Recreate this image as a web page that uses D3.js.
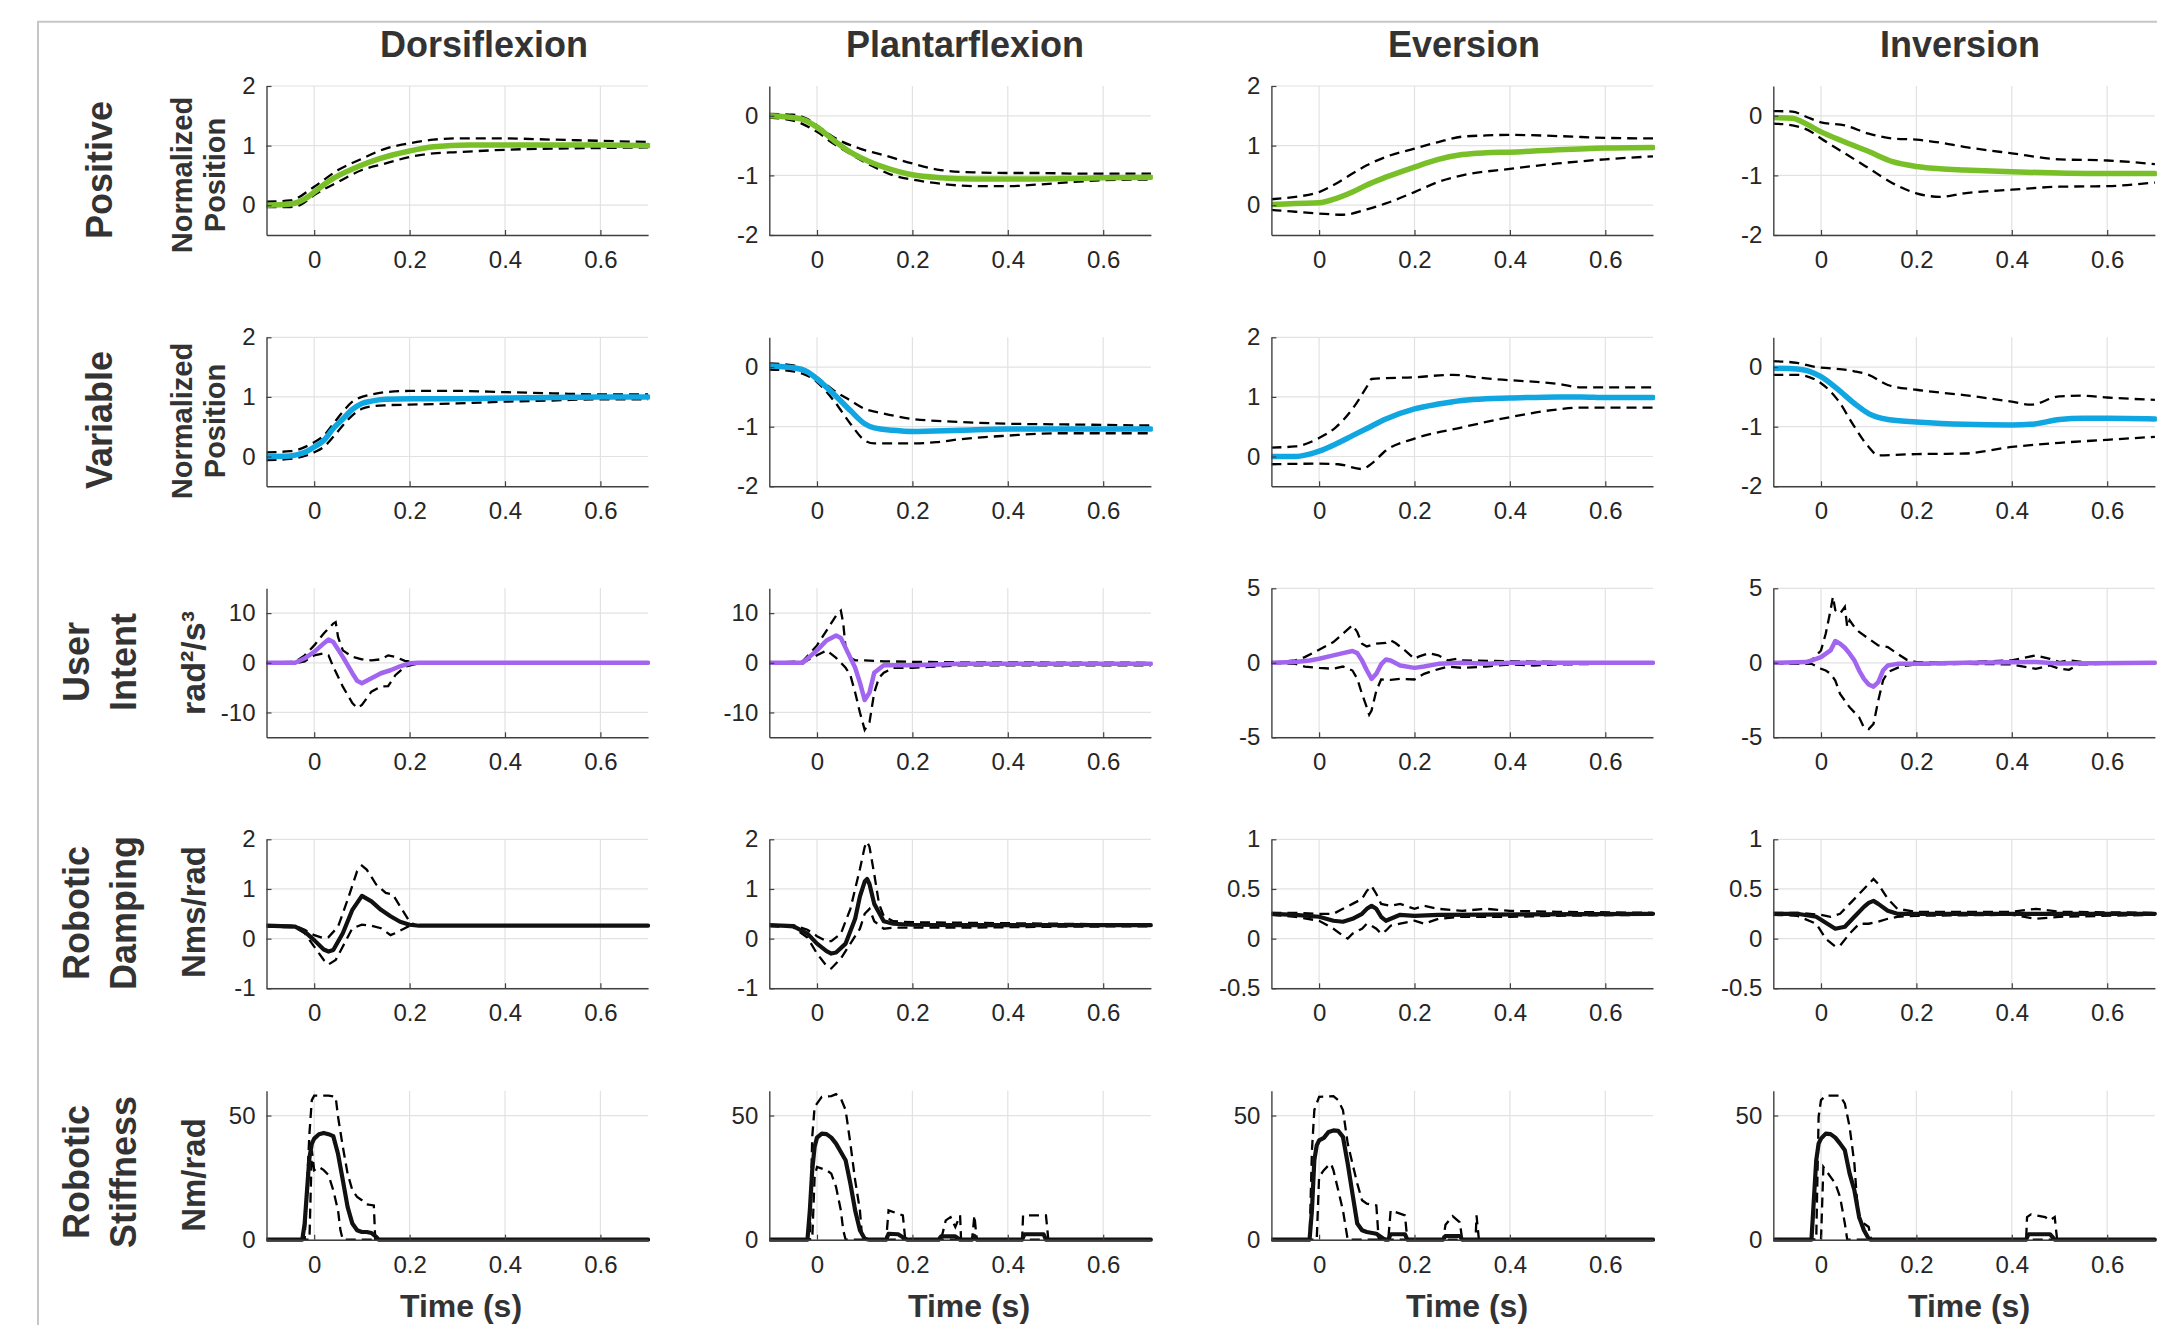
<!DOCTYPE html>
<html><head><meta charset="utf-8">
<script src="https://cdn.jsdelivr.net/npm/d3@7"></script>
<style>
body{margin:0;background:#fff}
svg{display:block}
text{font-family:"Liberation Sans",Arial,Helvetica,sans-serif}
</style>
</head><body>
<svg id="chart" width="2157" height="1325"></svg>
<script>
// ---------- labels ----------
const columns = ["Dorsiflexion","Plantarflexion","Eversion","Inversion"];
const rowLabels = [["Positive"],["Variable"],["User","Intent"],["Robotic","Damping"],["Robotic","Stiffness"]];
const yAxisLabels = [["Normalized","Position"],["Normalized","Position"],["rad\u00b2/s\u00b3"],["Nms/rad"],["Nm/rad"]];
const xLabel = "Time (s)";
const xDomain = [-0.1, 0.7];
const xTicks = [0, 0.2, 0.4, 0.6];
const yDomainsPos = [[-0.5,2],[-2,0.5],[-0.5,2],[-2,0.5]];
const yTicksPos = [[0,1,2],[-2,-1,0],[0,1,2],[-2,-1,0]];
const yDomainsInt = [[-15,15],[-15,15],[-5,5],[-5,5]];
const yTicksInt = [[-10,0,10],[-10,0,10],[-5,0,5],[-5,0,5]];
const yDomainsDamp = [[-1,2],[-1,2],[-0.5,1],[-0.5,1]];
const yTicksDamp = [[-1,0,1,2],[-1,0,1,2],[-0.5,0,0.5,1],[-0.5,0,0.5,1]];
const yDomainsStiff = [[0,60],[0,60],[0,60],[0,60]];
const yTicksStiff = [[0,50],[0,50],[0,50],[0,50]];

// ---------- Row 1: Positive (normalized position) ----------
const posDorsiMean = [[-0.1,0],[-0.05,0.02],[-0.013,0.14],[0,0.22],[0.034,0.42],[0.09,0.64],[0.137,0.78],[0.2,0.91],[0.25,0.98],[0.325,1.01],[0.4,1.01],[0.6,1.01],[0.7,1.0]];
const posDorsiUp = [[-0.1,0.06],[-0.05,0.08],[0,0.31],[0.05,0.59],[0.1,0.78],[0.15,0.95],[0.2,1.04],[0.25,1.1],[0.3,1.12],[0.4,1.12],[0.5,1.1],[0.6,1.08],[0.7,1.06]];
const posDorsiLo = [[-0.1,-0.03],[-0.05,-0.03],[-0.03,0],[0,0.17],[0.05,0.39],[0.1,0.59],[0.15,0.7],[0.2,0.81],[0.25,0.87],[0.3,0.89],[0.4,0.93],[0.5,0.95],[0.6,0.96],[0.7,0.97]];
const posPlantMean = [[-0.1,0],[-0.035,-0.05],[0,-0.19],[0.035,-0.41],[0.07,-0.61],[0.119,-0.8],[0.16,-0.91],[0.2,-0.99],[0.259,-1.04],[0.329,-1.06],[0.4,-1.06],[0.469,-1.06],[0.538,-1.05],[0.6,-1.04],[0.7,-1.03]];
const posPlantUp = [[-0.1,0.03],[-0.05,0.02],[-0.021,-0.05],[0,-0.16],[0.035,-0.36],[0.09,-0.55],[0.14,-0.66],[0.2,-0.8],[0.259,-0.91],[0.329,-0.95],[0.4,-0.96],[0.469,-0.96],[0.538,-0.97],[0.7,-0.97]];
const posPlantLo = [[-0.1,-0.03],[-0.05,-0.08],[0,-0.27],[0.035,-0.47],[0.07,-0.64],[0.12,-0.86],[0.16,-1.0],[0.2,-1.07],[0.26,-1.14],[0.33,-1.18],[0.4,-1.18],[0.47,-1.15],[0.54,-1.11],[0.6,-1.08],[0.7,-1.07]];
const posEverMean = [[-0.1,0.01],[-0.05,0.03],[0,0.04],[0.035,0.11],[0.07,0.22],[0.1,0.34],[0.14,0.47],[0.2,0.64],[0.25,0.77],[0.3,0.85],[0.35,0.88],[0.4,0.89],[0.5,0.93],[0.6,0.96],[0.7,0.97]];
const posEverUp = [[-0.1,0.1],[-0.05,0.14],[0,0.22],[0.035,0.36],[0.07,0.53],[0.1,0.67],[0.14,0.81],[0.2,0.95],[0.25,1.06],[0.3,1.15],[0.35,1.17],[0.4,1.18],[0.5,1.16],[0.6,1.13],[0.7,1.12]];
const posEverLo = [[-0.1,-0.08],[-0.05,-0.11],[0,-0.14],[0.05,-0.16],[0.1,-0.07],[0.14,0.03],[0.2,0.22],[0.25,0.39],[0.3,0.5],[0.4,0.61],[0.5,0.7],[0.6,0.77],[0.7,0.82]];
const posInvMean = [[-0.1,-0.03],[-0.06,-0.04],[-0.04,-0.1],[0,-0.27],[0.05,-0.44],[0.1,-0.6],[0.15,-0.77],[0.2,-0.85],[0.25,-0.89],[0.3,-0.91],[0.4,-0.94],[0.5,-0.96],[0.6,-0.97],[0.7,-0.97]];
const posInvUp = [[-0.1,0.08],[-0.06,0.07],[-0.03,-0.02],[0,-0.11],[0.05,-0.16],[0.1,-0.3],[0.15,-0.38],[0.2,-0.4],[0.25,-0.45],[0.3,-0.52],[0.4,-0.63],[0.5,-0.73],[0.6,-0.75],[0.7,-0.81]];
const posInvLo = [[-0.1,-0.13],[-0.06,-0.16],[-0.02,-0.27],[0,-0.38],[0.05,-0.63],[0.1,-0.88],[0.15,-1.13],[0.2,-1.3],[0.25,-1.36],[0.3,-1.3],[0.4,-1.24],[0.5,-1.19],[0.6,-1.18],[0.7,-1.12]];

// ---------- Row 2: Variable ----------
const varDorsiMean = [[-0.1,0],[-0.05,0.01],[-0.02,0.07],[0,0.16],[0.02,0.27],[0.04,0.47],[0.06,0.63],[0.08,0.79],[0.1,0.89],[0.12,0.93],[0.15,0.96],[0.2,0.97],[0.3,0.97],[0.4,0.98],[0.5,0.99],[0.6,1.0],[0.7,1.0]];
const varDorsiUp = [[-0.1,0.07],[-0.05,0.09],[0,0.24],[0.02,0.35],[0.04,0.55],[0.06,0.75],[0.08,0.92],[0.1,1.0],[0.12,1.04],[0.15,1.08],[0.2,1.1],[0.3,1.1],[0.4,1.08],[0.5,1.06],[0.6,1.04],[0.7,1.04]];
const varDorsiLo = [[-0.1,-0.06],[-0.05,-0.04],[0,0.07],[0.02,0.16],[0.04,0.33],[0.06,0.52],[0.08,0.69],[0.1,0.8],[0.12,0.84],[0.15,0.86],[0.2,0.87],[0.3,0.89],[0.4,0.92],[0.5,0.94],[0.6,0.96],[0.7,0.96]];
const varPlantMean = [[-0.1,0.02],[-0.05,-0.01],[-0.02,-0.08],[0,-0.2],[0.035,-0.45],[0.07,-0.73],[0.1,-0.95],[0.12,-1.02],[0.16,-1.06],[0.2,-1.08],[0.3,-1.06],[0.4,-1.04],[0.5,-1.04],[0.6,-1.04],[0.7,-1.04]];
const varPlantUp = [[-0.1,0.06],[-0.05,0.03],[-0.02,-0.06],[0,-0.17],[0.035,-0.39],[0.07,-0.56],[0.1,-0.7],[0.14,-0.78],[0.2,-0.87],[0.3,-0.92],[0.4,-0.95],[0.5,-0.96],[0.6,-0.97],[0.7,-0.98]];
const varPlantLo = [[-0.1,-0.04],[-0.05,-0.07],[0,-0.25],[0.035,-0.56],[0.07,-0.95],[0.1,-1.23],[0.12,-1.28],[0.2,-1.28],[0.25,-1.26],[0.3,-1.21],[0.4,-1.15],[0.5,-1.11],[0.6,-1.11],[0.7,-1.11]];
const varEverMean = [[-0.1,0],[-0.05,0],[-0.02,0.04],[0,0.09],[0.035,0.21],[0.07,0.35],[0.1,0.47],[0.14,0.63],[0.2,0.8],[0.25,0.88],[0.3,0.94],[0.35,0.97],[0.4,0.98],[0.5,1.0],[0.55,1.0],[0.6,0.99],[0.7,0.99]];
const varEverUp = [[-0.1,0.15],[-0.05,0.17],[0,0.31],[0.035,0.49],[0.07,0.8],[0.1,1.17],[0.11,1.3],[0.2,1.33],[0.28,1.37],[0.35,1.31],[0.4,1.28],[0.5,1.22],[0.55,1.16],[0.6,1.16],[0.7,1.16]];
const varEverLo = [[-0.1,-0.13],[0,-0.12],[0.04,-0.13],[0.09,-0.21],[0.11,-0.12],[0.14,0.1],[0.2,0.3],[0.3,0.49],[0.4,0.66],[0.5,0.79],[0.55,0.82],[0.7,0.82]];
const varInvMean = [[-0.1,-0.02],[-0.05,-0.03],[0,-0.16],[0.035,-0.37],[0.07,-0.61],[0.1,-0.78],[0.14,-0.88],[0.2,-0.92],[0.3,-0.96],[0.4,-0.97],[0.44,-0.96],[0.5,-0.88],[0.55,-0.86],[0.6,-0.86],[0.7,-0.87]];
const varInvUp = [[-0.1,0.1],[-0.05,0.07],[-0.01,0],[0.02,-0.02],[0.07,-0.07],[0.1,-0.13],[0.14,-0.3],[0.2,-0.38],[0.3,-0.47],[0.4,-0.58],[0.44,-0.63],[0.5,-0.49],[0.55,-0.48],[0.6,-0.51],[0.7,-0.55]];
const varInvLo = [[-0.1,-0.13],[-0.05,-0.13],[0,-0.27],[0.035,-0.55],[0.07,-1.0],[0.1,-1.34],[0.12,-1.48],[0.2,-1.46],[0.3,-1.45],[0.4,-1.34],[0.5,-1.27],[0.6,-1.22],[0.7,-1.17]];

// ---------- Row 3: User intent ----------
const intDorsiMean = [[-0.1,0],[-0.04,0],[-0.02,0.9],[0,2.2],[0.02,3.9],[0.03,4.7],[0.04,4.2],[0.06,1.2],[0.08,-2.1],[0.09,-3.6],[0.1,-4.1],[0.12,-3.1],[0.14,-2.1],[0.16,-1.5],[0.18,-0.7],[0.2,-0.1],[0.22,0],[0.7,0]];
const intDorsiUp = [[-0.1,0],[-0.04,0.2],[-0.02,1.5],[0,3.5],[0.02,5.9],[0.04,7.9],[0.045,8.2],[0.05,5.2],[0.06,2.5],[0.08,1.2],[0.1,0.7],[0.12,0.5],[0.14,0.7],[0.155,1.5],[0.17,1.2],[0.19,0.4],[0.21,0.1],[0.25,0],[0.7,0]];
const intDorsiLo = [[-0.1,-0.1],[-0.04,-0.1],[-0.02,0.3],[0,1.5],[0.02,1.9],[0.03,1.5],[0.04,-0.8],[0.06,-4.8],[0.08,-8.1],[0.09,-9.1],[0.1,-8.5],[0.12,-5.8],[0.14,-4.8],[0.155,-4.7],[0.17,-2.5],[0.19,-0.8],[0.21,-0.3],[0.25,-0.1],[0.7,-0.1]];
const intPlantMean = [[-0.1,0],[-0.03,0],[0,2.5],[0.02,4.5],[0.04,5.5],[0.05,5],[0.06,3],[0.08,-1],[0.09,-4],[0.1,-7.5],[0.11,-6],[0.12,-2],[0.14,-0.5],[0.2,-0.5],[0.3,-0.2],[0.7,-0.2]];
const intPlantUp = [[-0.1,0],[-0.03,0.3],[0,3.5],[0.02,6.5],[0.04,9.5],[0.05,10.5],[0.055,8],[0.06,3],[0.07,1],[0.08,0.5],[0.1,0.5],[0.14,0.3],[0.2,0.2],[0.3,0.1],[0.7,0]];
const intPlantLo = [[-0.1,0],[-0.03,0],[0,1.5],[0.02,2.5],[0.04,1],[0.06,-1],[0.07,-2.5],[0.08,-6],[0.09,-10],[0.1,-13.5],[0.11,-12],[0.12,-6],[0.13,-3],[0.14,-2],[0.16,-1],[0.2,-1],[0.3,-0.5],[0.7,-0.5]];
const intEverMean = [[-0.1,0],[-0.05,0.05],[-0.02,0.16],[0,0.27],[0.03,0.5],[0.05,0.65],[0.07,0.79],[0.08,0.65],[0.09,0.16],[0.1,-0.5],[0.11,-1.08],[0.12,-0.74],[0.13,-0.11],[0.14,0.22],[0.15,0.16],[0.17,-0.18],[0.2,-0.34],[0.22,-0.25],[0.25,-0.07],[0.3,0],[0.35,-0.07],[0.4,0],[0.7,0]];
const intEverUp = [[-0.1,0],[-0.05,0.16],[-0.03,0.38],[0,0.88],[0.03,1.39],[0.05,1.96],[0.07,2.52],[0.08,2.07],[0.09,1.28],[0.1,1.1],[0.12,1.28],[0.14,1.33],[0.15,1.51],[0.16,1.33],[0.18,0.83],[0.2,0.27],[0.21,0.43],[0.23,0.65],[0.25,0.5],[0.27,0.16],[0.29,0.27],[0.3,0.16],[0.4,0.11],[0.5,0.05],[0.7,0.05]];
const intEverLo = [[-0.1,0],[-0.05,-0.07],[-0.03,-0.25],[0,-0.34],[0.03,-0.4],[0.05,-0.25],[0.07,-0.52],[0.08,-1.08],[0.09,-2.09],[0.1,-2.99],[0.105,-3.48],[0.11,-3.2],[0.12,-1.87],[0.13,-1.12],[0.15,-1.15],[0.17,-1.08],[0.2,-1.12],[0.22,-0.74],[0.24,-0.52],[0.27,-0.25],[0.3,-0.34],[0.35,-0.25],[0.4,-0.11],[0.45,-0.18],[0.5,-0.11],[0.6,-0.07],[0.7,-0.07]];
const intInvMean = [[-0.1,0],[-0.03,0.05],[-0.01,0.27],[0,0.38],[0.02,0.83],[0.03,1.46],[0.04,1.28],[0.05,1.01],[0.06,0.61],[0.07,0.16],[0.08,-0.52],[0.09,-1.08],[0.1,-1.46],[0.11,-1.6],[0.12,-1.3],[0.13,-0.52],[0.14,-0.18],[0.16,-0.07],[0.2,-0.07],[0.3,0],[0.45,0.05],[0.5,-0.05],[0.7,0]];
const intInvUp = [[-0.1,0],[-0.05,0],[-0.02,0.16],[0,0.83],[0.01,1.96],[0.02,3.53],[0.025,4.43],[0.03,3.53],[0.04,3.3],[0.05,3.75],[0.055,2.4],[0.06,2.85],[0.07,2.4],[0.08,2.07],[0.1,1.62],[0.12,1.17],[0.14,1.06],[0.16,0.61],[0.18,0.2],[0.2,0.05],[0.3,0.05],[0.4,0.16],[0.45,0.5],[0.48,0.27],[0.5,0.05],[0.52,0.16],[0.55,0.05],[0.7,0]];
const intInvLo = [[-0.1,-0.07],[-0.02,-0.07],[0,-0.4],[0.01,-0.52],[0.02,-0.74],[0.03,-1.19],[0.04,-2.09],[0.05,-2.54],[0.06,-2.99],[0.08,-3.66],[0.09,-4.34],[0.1,-4.45],[0.11,-4.11],[0.12,-2.54],[0.13,-1.19],[0.14,-0.63],[0.16,-0.34],[0.18,-0.18],[0.2,-0.11],[0.3,-0.07],[0.4,-0.11],[0.45,-0.4],[0.48,-0.18],[0.5,-0.4],[0.52,-0.47],[0.54,-0.11],[0.6,-0.07],[0.7,-0.07]];

// ---------- Row 4: Robotic damping ----------
const dampDorsiMean = [[-0.1,0.26],[-0.04,0.24],[-0.02,0.14],[0,-0.03],[0.02,-0.22],[0.03,-0.26],[0.04,-0.23],[0.06,0.11],[0.08,0.58],[0.1,0.86],[0.12,0.75],[0.14,0.58],[0.16,0.45],[0.18,0.34],[0.2,0.28],[0.22,0.26],[0.7,0.26]];
const dampDorsiUp = [[-0.1,0.26],[-0.04,0.26],[-0.02,0.18],[0,0.07],[0.02,0.01],[0.03,0.03],[0.05,0.24],[0.07,0.78],[0.09,1.36],[0.1,1.47],[0.11,1.39],[0.13,1.09],[0.15,0.92],[0.165,0.89],[0.18,0.65],[0.2,0.34],[0.21,0.28],[0.22,0.26],[0.7,0.26]];
const dampDorsiLo = [[-0.1,0.24],[-0.04,0.23],[-0.02,0.11],[0,-0.16],[0.02,-0.43],[0.03,-0.52],[0.045,-0.43],[0.06,-0.16],[0.08,0.21],[0.1,0.28],[0.12,0.26],[0.14,0.21],[0.16,0.07],[0.17,0.11],[0.19,0.21],[0.2,0.26],[0.7,0.26]];
const dampPlantMean = [[-0.1,0.27],[-0.05,0.25],[-0.02,0.1],[0,-0.1],[0.02,-0.25],[0.03,-0.3],[0.04,-0.28],[0.06,-0.1],[0.08,0.4],[0.09,0.85],[0.1,1.15],[0.105,1.2],[0.11,1.1],[0.12,0.7],[0.14,0.35],[0.16,0.3],[0.2,0.28],[0.3,0.27],[0.7,0.27]];
const dampPlantUp = [[-0.1,0.27],[-0.05,0.27],[-0.02,0.18],[0,0.05],[0.02,-0.05],[0.03,-0.05],[0.05,0.1],[0.07,0.6],[0.09,1.4],[0.1,1.85],[0.105,1.95],[0.11,1.85],[0.12,1.3],[0.13,0.7],[0.14,0.45],[0.16,0.35],[0.2,0.33],[0.3,0.32],[0.5,0.3],[0.7,0.28]];
const dampPlantLo = [[-0.1,0.25],[-0.05,0.23],[-0.02,0.02],[0,-0.3],[0.02,-0.55],[0.03,-0.6],[0.05,-0.4],[0.07,-0.1],[0.09,0.2],[0.1,0.5],[0.11,0.6],[0.12,0.35],[0.14,0.2],[0.16,0.22],[0.2,0.22],[0.3,0.22],[0.5,0.24],[0.7,0.25]];
const dampEverMean = [[-0.1,0.25],[-0.05,0.24],[0,0.22],[0.03,0.18],[0.05,0.17],[0.07,0.2],[0.09,0.25],[0.1,0.3],[0.11,0.33],[0.12,0.3],[0.13,0.22],[0.14,0.18],[0.15,0.2],[0.17,0.24],[0.2,0.23],[0.25,0.24],[0.7,0.25]];
const dampEverUp = [[-0.1,0.26],[-0.05,0.26],[0,0.25],[0.03,0.25],[0.05,0.3],[0.07,0.35],[0.09,0.4],[0.1,0.48],[0.11,0.53],[0.12,0.45],[0.13,0.35],[0.15,0.33],[0.17,0.35],[0.2,0.3],[0.22,0.33],[0.25,0.3],[0.3,0.28],[0.35,0.3],[0.4,0.28],[0.5,0.27],[0.7,0.26]];
const dampEverLo = [[-0.1,0.24],[-0.05,0.22],[0,0.18],[0.03,0.1],[0.05,0.03],[0.06,0],[0.07,0.05],[0.09,0.1],[0.1,0.15],[0.11,0.13],[0.12,0.1],[0.13,0.05],[0.14,0.08],[0.15,0.13],[0.17,0.15],[0.2,0.18],[0.22,0.15],[0.25,0.2],[0.3,0.22],[0.4,0.22],[0.5,0.23],[0.7,0.24]];
const dampInvMean = [[-0.1,0.25],[-0.05,0.25],[-0.01,0.22],[0.02,0.13],[0.03,0.1],[0.05,0.12],[0.07,0.22],[0.09,0.32],[0.1,0.36],[0.11,0.38],[0.12,0.35],[0.14,0.28],[0.16,0.25],[0.2,0.25],[0.7,0.25]];
const dampInvUp = [[-0.1,0.26],[-0.05,0.26],[0,0.24],[0.02,0.22],[0.04,0.25],[0.06,0.35],[0.08,0.45],[0.1,0.55],[0.11,0.6],[0.12,0.55],[0.14,0.4],[0.16,0.3],[0.2,0.27],[0.4,0.27],[0.45,0.3],[0.5,0.27],[0.7,0.26]];
const dampInvLo = [[-0.1,0.24],[-0.05,0.23],[-0.01,0.15],[0.01,0],[0.03,-0.08],[0.04,-0.07],[0.06,0.05],[0.08,0.15],[0.1,0.15],[0.12,0.17],[0.14,0.2],[0.16,0.22],[0.2,0.23],[0.4,0.24],[0.45,0.2],[0.5,0.22],[0.7,0.24]];

// ---------- Row 5: Robotic stiffness ----------
const stiffDorsiMean = [[-0.1,0],[-0.025,0],[-0.02,6.5],[-0.015,20],[-0.01,33],[-0.005,38.7],[0,40.7],[0.01,42.5],[0.02,43],[0.03,42.5],[0.04,41.7],[0.05,34.5],[0.06,24],[0.07,13.2],[0.08,6.5],[0.09,3.8],[0.1,3.1],[0.11,3.1],[0.12,2.7],[0.13,1.1],[0.135,0],[0.7,0]];
const stiffDorsiUp = [[-0.1,0],[-0.02,0],[-0.015,22.6],[-0.01,42.7],[-0.005,56.2],[0,58],[0.03,58],[0.045,57.5],[0.05,49.5],[0.06,37.4],[0.07,26.6],[0.08,19.9],[0.09,17.2],[0.1,15.9],[0.11,14.2],[0.125,13.8],[0.128,0],[0.7,0]];
const stiffDorsiLo = [[-0.1,0],[-0.01,0],[-0.005,36],[0,28],[0.01,29.3],[0.02,28],[0.03,26],[0.04,19.9],[0.05,11.8],[0.055,3.8],[0.06,0],[0.7,0]];
const stiffPlantMean = [[-0.1,0],[-0.02,0],[-0.015,11.8],[-0.01,28],[-0.005,37.4],[0,41.1],[0.01,42.7],[0.02,42.5],[0.03,41.1],[0.04,38.7],[0.05,35.3],[0.06,32],[0.07,22.6],[0.08,11.8],[0.09,3.8],[0.1,0.4],[0.11,0],[0.145,0],[0.15,2.4],[0.17,2.2],[0.185,0.4],[0.19,0],[0.255,0],[0.26,1.3],[0.29,1.3],[0.3,0],[0.325,0],[0.33,1.5],[0.335,0],[0.43,0],[0.435,2.2],[0.475,2.2],[0.48,0],[0.7,0]];
const stiffPlantUp = [[-0.1,0],[-0.015,0],[-0.01,41.4],[-0.005,53.5],[0.01,57.5],[0.03,57.8],[0.04,58.6],[0.05,56.9],[0.06,52.2],[0.07,38.7],[0.08,23.9],[0.09,11.8],[0.095,0],[0.145,0],[0.15,11.8],[0.18,9.8],[0.185,0],[0.26,0],[0.27,7.8],[0.28,9.1],[0.29,5.1],[0.3,9.8],[0.302,0],[0.325,0],[0.33,9.8],[0.335,0],[0.43,0],[0.432,9.8],[0.48,9.8],[0.485,0],[0.7,0]];
const stiffPlantLo = [[-0.1,0],[-0.01,0],[-0.005,25.3],[0,29.3],[0.02,28],[0.03,26.6],[0.04,21.2],[0.05,11.8],[0.055,3.8],[0.06,0],[0.7,0]];
const stiffEverMean = [[-0.1,0],[-0.02,0],[-0.015,11.8],[-0.01,32],[-0.005,38],[0,40],[0.01,41],[0.02,43.4],[0.03,44],[0.04,43.8],[0.05,41.4],[0.06,30.6],[0.07,18.5],[0.08,6.5],[0.09,3.8],[0.1,3.1],[0.12,2.4],[0.135,0.4],[0.14,0],[0.145,0],[0.15,2.2],[0.18,2.2],[0.185,0],[0.26,0],[0.265,1.5],[0.295,1.5],[0.3,0],[0.7,0]];
const stiffEverUp = [[-0.1,0],[-0.02,0],[-0.015,36],[-0.01,52.2],[0,57.5],[0.03,57.8],[0.04,56.2],[0.05,52.2],[0.06,38.7],[0.07,30.6],[0.08,22.6],[0.09,15.9],[0.1,14.5],[0.12,13.8],[0.125,0],[0.145,0],[0.15,11.8],[0.18,9.8],[0.185,0],[0.26,0],[0.265,6],[0.28,9.5],[0.295,7],[0.3,0],[0.328,0],[0.33,9.8],[0.335,0],[0.7,0]];
const stiffEverLo = [[-0.1,0],[-0.005,0],[0,25.3],[0.01,28],[0.02,30],[0.025,30.6],[0.03,28],[0.04,20],[0.05,11.8],[0.06,0],[0.7,0]];
const stiffInvMean = [[-0.1,0],[-0.02,0],[-0.015,15.9],[-0.01,32],[-0.005,38.7],[0,40.7],[0.01,42.7],[0.02,42.5],[0.03,41.1],[0.04,38.7],[0.05,36],[0.06,26.6],[0.07,19.9],[0.08,9.1],[0.09,3.8],[0.1,0.4],[0.105,0],[0.43,0],[0.435,2.2],[0.48,2.2],[0.49,0],[0.7,0]];
const stiffInvUp = [[-0.1,0],[-0.01,0],[-0.005,49.5],[0,56.2],[0.01,58],[0.04,58],[0.05,54.8],[0.06,45.4],[0.07,30.6],[0.075,17.2],[0.08,7.8],[0.09,6.5],[0.1,5.1],[0.105,0],[0.43,0],[0.432,9.1],[0.44,10.2],[0.47,9.1],[0.48,7.8],[0.49,9.1],[0.495,0],[0.7,0]];
const stiffInvLo = [[-0.1,0],[0,0],[0.005,29.3],[0.01,28],[0.02,25.3],[0.03,22.6],[0.04,17.2],[0.05,6.5],[0.055,0],[0.7,0]];

// ---------- assemble ----------
const rows = [
  {domains: yDomainsPos, ticks: yTicksPos, color: "#78bf28", width: 5.5, smooth: true,
   series: [[posDorsiMean,posDorsiUp,posDorsiLo],[posPlantMean,posPlantUp,posPlantLo],[posEverMean,posEverUp,posEverLo],[posInvMean,posInvUp,posInvLo]]},
  {domains: yDomainsPos, ticks: yTicksPos, color: "#0fa6e2", width: 5.5, smooth: true,
   series: [[varDorsiMean,varDorsiUp,varDorsiLo],[varPlantMean,varPlantUp,varPlantLo],[varEverMean,varEverUp,varEverLo],[varInvMean,varInvUp,varInvLo]]},
  {domains: yDomainsInt, ticks: yTicksInt, color: "#a265f0", width: 4.5, smooth: false,
   series: [[intDorsiMean,intDorsiUp,intDorsiLo],[intPlantMean,intPlantUp,intPlantLo],[intEverMean,intEverUp,intEverLo],[intInvMean,intInvUp,intInvLo]]},
  {domains: yDomainsDamp, ticks: yTicksDamp, color: "#111111", width: 4.2, smooth: false,
   series: [[dampDorsiMean,dampDorsiUp,dampDorsiLo],[dampPlantMean,dampPlantUp,dampPlantLo],[dampEverMean,dampEverUp,dampEverLo],[dampInvMean,dampInvUp,dampInvLo]]},
  {domains: yDomainsStiff, ticks: yTicksStiff, color: "#111111", width: 4.2, smooth: false,
   series: [[stiffDorsiMean,stiffDorsiUp,stiffDorsiLo],[stiffPlantMean,stiffPlantUp,stiffPlantLo],[stiffEverMean,stiffEverUp,stiffEverLo],[stiffInvMean,stiffInvUp,stiffInvLo]]}
];

// ---------- layout ----------
const colLeft = [266.5, 769.3, 1271.4, 1773.3];
const plotW = 381.6;
const rowTop = [86, 337.3, 588.3, 839.3, 1090.7];
const plotH = 149;
const titleX = [484, 965, 1464, 1960];
const timeX = [461, 969, 1467, 1969];
const rowLabelCY = [170, 420, 662, 913, 1172];
const yLabelCY = [175, 421, 663, 912, 1175];
const yLabelSize = [29, 29, 34, 33, 33];

const svg = d3.select("#chart");
const textColor = "#333333";

// outer frame (partial border of the figure)
svg.append("path").attr("d", "M38,1325 V21.7 H2157")
  .attr("fill","none").attr("stroke","#c6c6c6").attr("stroke-width",2);

// column titles and x-axis labels
columns.forEach((t,c) => {
  svg.append("text").attr("x", titleX[c]).attr("y", 57)
    .attr("text-anchor","middle").attr("font-size",36).attr("font-weight","bold")
    .attr("fill",textColor).text(t);
  svg.append("text").attr("x", timeX[c]).attr("y", 1317)
    .attr("text-anchor","middle").attr("font-size",32).attr("font-weight","bold")
    .attr("fill",textColor).text(xLabel);
});

// row labels
function rotLines(lines, centersX, cy, size) {
  lines.forEach((s,i) => {
    svg.append("text").attr("transform", `translate(${centersX[i]},${cy}) rotate(-90)`)
      .attr("text-anchor","middle").attr("font-size",size).attr("font-weight","bold")
      .attr("fill",textColor).text(s);
  });
}
rowLabels.forEach((lines,r) => {
  rotLines(lines, lines.length === 1 ? [111.6] : [89, 136], rowLabelCY[r], 36);
});
yAxisLabels.forEach((lines,r) => {
  rotLines(lines, lines.length === 1 ? [205] : [192, 225], yLabelCY[r], yLabelSize[r]);
});

// panels
rows.forEach((row, r) => {
  columns.forEach((col, c) => {
    const L = colLeft[c], T = rowTop[r];
    const x = d3.scaleLinear().domain(xDomain).range([L, L + plotW]);
    const y = d3.scaleLinear().domain(row.domains[c]).range([T + plotH, T]);
    const g = svg.append("g");
    // grid
    g.selectAll(null).data(xTicks).enter().append("line")
      .attr("x1", d => x(d)).attr("x2", d => x(d)).attr("y1", T).attr("y2", T + plotH)
      .attr("stroke","#e2e2e2").attr("stroke-width",1.2);
    g.selectAll(null).data(row.ticks[c]).enter().append("line")
      .attr("x1", L).attr("x2", L + plotW).attr("y1", d => y(d)).attr("y2", d => y(d))
      .attr("stroke","#e2e2e2").attr("stroke-width",1.2);

    const clipId = `clip-${r}-${c}`;
    svg.append("clipPath").attr("id", clipId).append("rect")
      .attr("x", L).attr("y", T - 4).attr("width", plotW + 2).attr("height", plotH + 8);

    const line = d3.line().x(d => x(d[0])).y(d => y(d[1]))
      .curve(row.smooth ? d3.curveMonotoneX : d3.curveLinear);
    const [mean, up, lo] = row.series[c];
    const data = g.append("g").attr("clip-path", `url(#${clipId})`);
    [up, lo].forEach(s => {
      data.append("path").attr("d", line(s)).attr("fill","none")
        .attr("stroke","#000").attr("stroke-width",2.3)
        .attr("stroke-dasharray","10,6");
    });
    data.append("path").attr("d", line(mean)).attr("fill","none")
      .attr("stroke", row.color).attr("stroke-width", row.width)
      .attr("stroke-linejoin","round").attr("stroke-linecap","round");

    // axes
    const ax = g.append("g").attr("transform", `translate(0,${T + plotH})`)
      .call(d3.axisBottom(x).tickValues(xTicks).tickSizeInner(-5).tickSizeOuter(0)
        .tickPadding(16).tickFormat(d => String(d)));
    const ay = g.append("g").attr("transform", `translate(${L},0)`)
      .call(d3.axisLeft(y).tickValues(row.ticks[c]).tickSizeInner(-5).tickSizeOuter(0)
        .tickPadding(11).tickFormat(d => String(d)));
    [ax, ay].forEach(a => {
      a.select(".domain").attr("stroke","#404040").attr("stroke-width",1.4);
      a.selectAll(".tick line").attr("stroke","#404040").attr("stroke-width",1.2);
      a.selectAll(".tick text").attr("font-size",24).attr("fill","#262626")
        .attr("font-family",'"Liberation Sans",Arial,sans-serif');
    });
  });
});
</script>
</body></html>
